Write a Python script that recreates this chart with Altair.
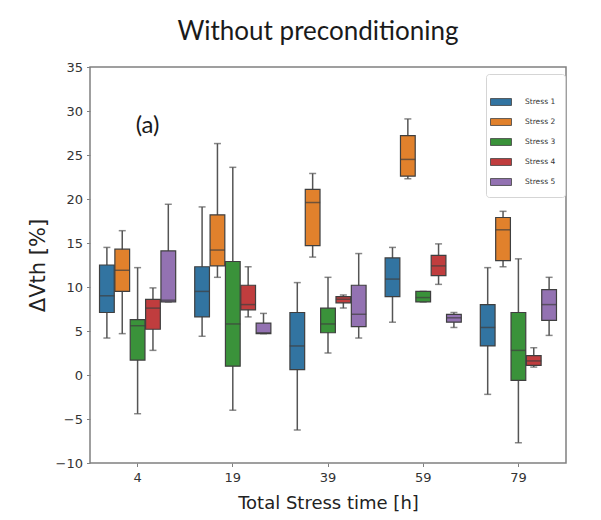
import altair as alt
import pandas as pd

times = ["4", "19", "39", "59", "79"]
stresses = ["Stress 1", "Stress 2", "Stress 3", "Stress 4", "Stress 5"]
colors = ["#3274a1", "#e1812c", "#3a923a", "#c03d3e", "#9372b2"]

# (lower whisker, Q1, median, Q3, upper whisker) for each stress time
stress1 = [(4.2, 7.1, 9.0, 12.5, 14.5), (4.4, 6.6, 9.5, 12.3, 19.1), (-6.25, 0.6, 3.3, 7.1, 10.5),
           (6.0, 8.9, 10.9, 13.3, 14.5), (-2.2, 3.3, 5.4, 8.0, 12.2)]
stress2 = [(4.7, 9.5, 11.9, 14.3, 16.4), (11.1, 12.4, 14.2, 18.2, 26.3), (13.4, 14.7, 19.6, 21.1, 22.9),
           (22.3, 22.6, 24.5, 27.2, 29.1), (12.3, 13.0, 16.5, 17.9, 18.6)]
stress3 = [(-4.4, 1.7, 5.6, 6.3, 12.2), (-4.0, 1.0, 5.8, 12.9, 23.6), (2.5, 4.8, 5.8, 7.6, 11.1),
           (8.3, 8.3, 8.8, 9.5, 9.5), (-7.7, -0.6, 2.8, 7.1, 13.2)]
stress4 = [(2.8, 5.2, 7.6, 8.6, 9.9), (6.6, 7.4, 8.0, 10.2, 12.3), (7.6, 8.2, 8.6, 8.9, 9.1),
           (10.3, 11.3, 12.4, 13.6, 14.9), (0.9, 1.1, 1.6, 2.2, 3.1)]
stress5 = [(8.3, 8.3, 8.5, 14.1, 19.4), (4.7, 4.7, 4.8, 5.9, 7.0), (4.2, 5.5, 6.9, 10.2, 13.8),
           (5.4, 6.0, 6.5, 6.9, 7.1), (4.5, 6.2, 8.0, 9.7, 11.1)]

series = [stress1, stress2, stress3, stress4, stress5]
rows = []
for name, vals in zip(stresses, series):
    for t, (lo, q1, med, q3, hi) in zip(times, vals):
        rows.append({"time": t, "stress": name, "lo": lo, "q1": q1, "med": med, "q3": q3, "hi": hi})
df = pd.DataFrame(rows)

ytitle = "ΔVth [%]"
yscale = alt.Scale(domain=[-10, 35], nice=False, zero=False)
yaxis = alt.Axis(values=list(range(-10, 40, 5)), labelPadding=4, titlePadding=7, titleFontSize=21)
xscale = alt.Scale(domain=times, paddingInner=0.2, paddingOuter=0.1)
xaxis = alt.Axis(labelAngle=0, labelPadding=5, titlePadding=10, titleFontSize=18)

base = alt.Chart(df).encode(
    x=alt.X("time:N", sort=times, scale=xscale, axis=xaxis, title="Total Stress time [h]"),
    xOffset=alt.XOffset("stress:N", sort=stresses,
                        scale=alt.Scale(domain=stresses, paddingInner=0.04, paddingOuter=0)),
)

whiskers = base.mark_rule(color="#555555", strokeWidth=1.5).encode(
    y=alt.Y("lo:Q", scale=yscale, axis=yaxis, title=ytitle),
    y2="hi:Q",
)
cap_lo = base.mark_tick(size=7, thickness=1.5, color="#555555").encode(
    y=alt.Y("lo:Q", scale=yscale, title=ytitle))
cap_hi = base.mark_tick(size=7, thickness=1.5, color="#555555").encode(
    y=alt.Y("hi:Q", scale=yscale, title=ytitle))
boxes = base.mark_bar(stroke="#3f3f3f", strokeWidth=1.2).encode(
    y=alt.Y("q1:Q", scale=yscale, title=ytitle),
    y2="q3:Q",
    color=alt.Color(
        "stress:N",
        sort=stresses,
        scale=alt.Scale(domain=stresses, range=colors),
        legend=alt.Legend(
            title=" ", orient="none", legendX=396, legendY=7, direction="vertical",
            symbolType="M-2,-0.66H2V0.66H-2Z", symbolSize=110,
            symbolStrokeColor="#3f3f3f", symbolStrokeWidth=0.8, symbolOpacity=1,
            labelFont="DejaVu Sans", labelFontSize=7.5, labelColor="#333333", labelOffset=18,
            rowPadding=8, padding=9, fillColor="white", strokeColor="#d5d5d5",
            cornerRadius=3, titleFontSize=9, titlePadding=4,
        ),
    ),
)
medians = base.mark_tick(size=15, thickness=1.5, color="#3f3f3f").encode(
    y=alt.Y("med:Q", scale=yscale, title=ytitle))

ann = pd.DataFrame({"time": ["4"], "v": [28.3], "s": ["(a)"]})
label = alt.Chart(ann).mark_text(font="Lato", fontSize=24, dx=10, color="#1a1a1a").encode(
    x=alt.X("time:N", sort=times, scale=xscale),
    y=alt.Y("v:Q", scale=yscale, title=ytitle),
    text="s:N",
)

chart = alt.layer(whiskers, cap_lo, cap_hi, boxes, medians, label).properties(
    width=476,
    height=396,
    padding={"left": 82, "top": 59, "right": 20, "bottom": 53},
    autosize=alt.AutoSizeParams(type="none"),
    title=alt.TitleParams("Without preconditioning", font="Lato", fontSize=26,
                          fontWeight="normal", offset=16, dx=-10, color="#1a1a1a",
                          anchor="middle"),
).configure_axis(
    grid=False, domain=False, tickColor="#808080", tickSize=3.5, tickWidth=1,
    labelFont="DejaVu Sans", labelFontSize=13, labelColor="#333333",
    titleFont="DejaVu Sans", titleFontWeight="normal", titleColor="#222222",
).configure_view(stroke="#808080", strokeWidth=1.5)

chart.save("out.html", embed_options={"renderer": "svg", "actions": False})
